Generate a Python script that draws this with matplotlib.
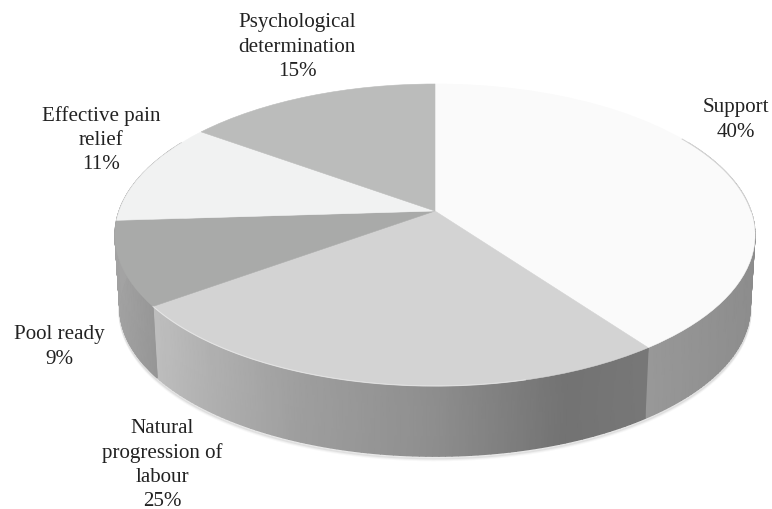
import numpy as np
import matplotlib
matplotlib.use("Agg")
import matplotlib.pyplot as plt
from matplotlib.transforms import Transform

# Survey shares, clockwise from twelve o'clock
categories = ["Support", "Natural\nprogression of\nlabour", "Pool ready",
              "Effective pain\nrelief", "Psychological\ndetermination"]
shares = [40, 25, 9, 11, 15]
top_colors = ["#fafafa", "#d3d3d3", "#a9aaa9", "#f1f2f2", "#bbbcbb"]
label_xy = [(736, 120), (162, 465), (59, 347), (101, 140), (297, 47)]

# Grey level along the outer wall of each slice: (pixel x stops, levels)
wall_shades = [
    ([640, 755], [0.60, 0.55]),
    ([160, 210, 300, 430, 565, 655], [0.74, 0.69, 0.62, 0.56, 0.45, 0.47]),
    ([115, 165], [0.64, 0.58]),
    ([115, 165], [0.64, 0.64]),
    ([115, 165], [0.64, 0.64]),
]


class TiltedDisc(Transform):
    """Perspective view of a unit disc lying on a table, in pixel coordinates."""
    input_dims = 2
    output_dims = 2
    is_separable = False
    has_inverse = False

    def __init__(self, scale=1.0, drop=0.0):
        super().__init__()
        self.scale = scale
        self.drop = drop

    def transform_non_affine(self, values):
        values = np.asarray(values, dtype=float)
        w = 1 + 0.159 * values[:, 1]
        x = 435 + self.scale * 316 * values[:, 0] / w
        y = 212 - self.scale * 147.2 * values[:, 1] / w + self.drop
        return np.column_stack([x, y])


def rim(angles, projection):
    """Points on the disc edge; angles run clockwise from the top, in degrees."""
    rad = np.radians(angles)
    return projection.transform_non_affine(np.column_stack([np.sin(rad), np.cos(rad)]))


plt.rcParams["font.family"] = ["Liberation Serif", "DejaVu Serif"]
fig = plt.figure(figsize=(7.72, 5.10), dpi=100, facecolor="white")
ax = fig.add_axes([0, 0, 1, 1])

top = TiltedDisc()
bottom = TiltedDisc(scale=0.985, drop=73)

wedges, _ = ax.pie(shares, colors=top_colors, startangle=90, counterclock=False,
                   radius=1, wedgeprops=dict(linewidth=0))
for wedge, color in zip(wedges, top_colors):
    wedge.set_transform(top + ax.transData)
    wedge.set_edgecolor(color)
    wedge.set_linewidth(0.4)
    wedge.set_zorder(3)

# Outer wall, one shaded strip per slice, plus a soft contact shadow beneath it
edges = np.concatenate([[0], np.cumsum(shares)]) * 360 / np.sum(shares)
for start, stop, (stops, levels) in zip(edges[:-1], edges[1:], wall_shades):
    lo, hi = max(start, 60), min(stop, 300)
    if hi <= lo:
        continue
    angles = np.linspace(lo, hi, 90)
    upper, lower = rim(angles, top), rim(angles, bottom)
    xs = np.vstack([upper[:, 0], lower[:, 0]])
    ys = np.vstack([upper[:, 1], lower[:, 1]])
    ax.pcolormesh(xs, ys, np.interp(xs, stops, levels), shading="gouraud",
                  cmap="gray", vmin=0, vmax=1, zorder=2)

shadow_arc = np.linspace(95, 262, 240)
for offset, alpha in [(3.5, 0.05), (2.5, 0.08), (1.5, 0.12)]:
    pts = rim(shadow_arc, TiltedDisc(scale=0.985, drop=73 + offset))
    ax.plot(pts[:, 0], pts[:, 1], color="#777777", lw=2, alpha=alpha, zorder=1)

# Bevel highlight on the front edge and a faint outline on the pale slice
pts = rim(np.linspace(edges[1] + 22, edges[2], 120), top)
ax.plot(pts[:, 0], pts[:, 1], color="white", lw=0.8, alpha=0.45, zorder=4)
pts = rim(np.linspace(58, 90, 60), top)
ax.plot(pts[:, 0], pts[:, 1], color="#d2d2d2", lw=0.7, zorder=4)

for name, share, (x, y) in zip(categories, shares, label_xy):
    ax.text(x, y, f"{name}\n{share}%", ha="center", va="center", ma="center",
            fontsize=15.1, color="#222222", linespacing=1.37, zorder=5)

ax.set_aspect("auto")
ax.set_xlim(0, 772)
ax.set_ylim(510, 0)
ax.axis("off")
fig.savefig("out.png", dpi=100, facecolor="white")
